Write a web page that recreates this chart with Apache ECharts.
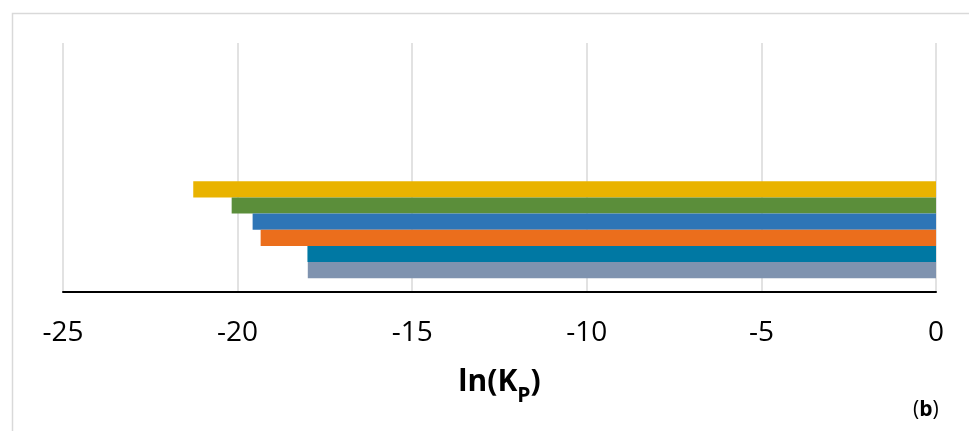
<!DOCTYPE html>
<html>
<head>
<meta charset="utf-8">
<script src="https://cdn.jsdelivr.net/npm/echarts@6/dist/echarts.min.js"></script>
<style>
html,body{margin:0;padding:0;background:#fff;}
#chart{width:969px;height:431px;}
</style>
</head>
<body>
<div id="chart"></div>
<script>
// Categories (bottom band holds the bars, top band is empty)
var categories = ['A', ''];
// Series names (top to bottom) and values
var seriesNames = ['S1', 'S2', 'S3', 'S4', 'S5', 'S6'];
var seriesValues = [-21.27, -20.17, -19.57, -19.34, -18.0, -17.99];
var seriesColors = ['#E9B300', '#5B8E3A', '#2E75B6', '#EB6E1C', '#0078A3', '#7F93AF'];
// X axis ticks
var xMin = -25, xMax = 0, xStep = 5;

var chart = echarts.init(document.getElementById('chart'), null, {renderer: 'canvas'});

var series = seriesNames.map(function (n, i) {
  return {
    name: n,
    type: 'bar',
    data: [seriesValues[i], null],
    barGap: '0%',
    barCategoryGap: '22%',
    itemStyle: {color: seriesColors[i]},
    silent: true,
    animation: false
  };
});

chart.setOption({
  animation: false,
  backgroundColor: '#fff',
  grid: {left: 63, right: 33, top: 43, bottom: 139, containLabel: false},
  xAxis: {
    type: 'value',
    min: xMin, max: xMax, interval: xStep,
    axisLine: {show: true, lineStyle: {color: '#000', width: 2}},
    axisTick: {show: false},
    splitLine: {show: true, lineStyle: {color: '#d9d9d9', width: 1.5}},
    axisLabel: {
      color: '#000', fontFamily: 'Open Sans', fontSize: 28, margin: 27
    },
    name: '{a|ln(K}{s|P}{a|)}',
    nameLocation: 'middle',
    nameGap: 75,
    nameTextStyle: {
      rich: {
        a: {fontFamily: 'Open Sans', fontWeight: 'bold', fontSize: 30, lineHeight: 36, verticalAlign: 'top', color: '#000'},
        s: {fontFamily: 'Open Sans', fontWeight: 'bold', fontSize: 21, lineHeight: 21, verticalAlign: 'top', padding: [19, 0, 0, 0], color: '#000'}
      }
    }
  },
  yAxis: {
    type: 'category',
    data: categories,
    axisLine: {show: false},
    axisTick: {show: false},
    axisLabel: {show: false},
    splitLine: {show: false}
  },
  graphic: [
    {
      type: 'rect',
      shape: {x: 12.5, y: 13.5, width: 1100, height: 600},
      style: {fill: 'none', stroke: '#d9d9d9', lineWidth: 1.5},
      silent: true
    },
    {
      type: 'text',
      left: 913, top: 400,
      style: {
        text: '{r|(}{b|b}{r|)}',
        rich: {
          r: {fontFamily: 'Open Sans', fontSize: 21, color: '#000'},
          b: {fontFamily: 'Open Sans', fontSize: 21, fontWeight: 'bold', color: '#000'}
        }
      },
      silent: true
    }
  ],
  series: series
});
</script>
</body>
</html>
